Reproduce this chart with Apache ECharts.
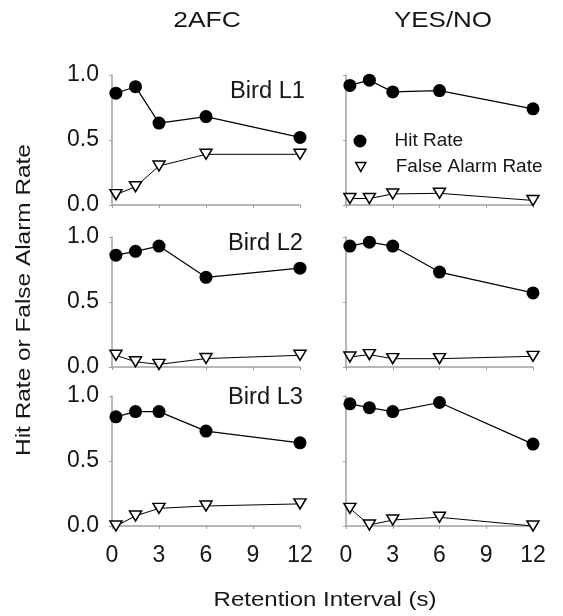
<!DOCTYPE html>
<html>
<head>
<meta charset="utf-8">
<script src="https://cdn.jsdelivr.net/npm/echarts@6/dist/echarts.min.js"></script>
<style>
  html, body { margin: 0; padding: 0; background: #fff; }
  #chart { width: 563px; height: 616px; }
</style>
</head>
<body>
<div id="chart"></div>
<script>
// ---- data ----
const retention = [0.25, 1.5, 3, 6, 12];
const conditions = ['2AFC', 'YES/NO'];
const birds = ['Bird L1', 'Bird L2', 'Bird L3'];
const xTicks = [0, 3, 6, 9, 12];
const yTicks = [0.0, 0.5, 1.0];

const hitL1_2afc = [0.86, 0.91, 0.63, 0.68, 0.52];
const faL1_2afc  = [0.08, 0.14, 0.30, 0.39, 0.39];
const hitL1_yn   = [0.92, 0.96, 0.87, 0.88, 0.74];
const faL1_yn    = [0.05, 0.05, 0.085, 0.09, 0.035];

const hitL2_2afc = [0.86, 0.89, 0.93, 0.69, 0.76];
const faL2_2afc  = [0.09, 0.04, 0.02, 0.065, 0.09];
const hitL2_yn   = [0.93, 0.96, 0.93, 0.73, 0.57];
const faL2_yn    = [0.077, 0.095, 0.064, 0.064, 0.082];

const hitL3_2afc = [0.84, 0.88, 0.88, 0.73, 0.64];
const faL3_2afc  = [0.0, 0.077, 0.136, 0.154, 0.17];
const hitL3_yn   = [0.94, 0.91, 0.88, 0.95, 0.63];
const faL3_yn    = [0.136, 0.008, 0.046, 0.067, 0.0];

const panels = [
  [[hitL1_2afc, faL1_2afc], [hitL1_yn, faL1_yn]],
  [[hitL2_2afc, faL2_2afc], [hitL2_yn, faL2_yn]],
  [[hitL3_2afc, faL3_2afc], [hitL3_yn, faL3_yn]]
];

// ---- layout ----
const FONT = 'Liberation Sans';
const TXT = '#161616';
const AXC = '#a0a0a0';
const colLeft = [112, 346];
const colWidth = [188, 187];
const rowTop = [75, 237, 396];
const rowHeight = 130;

const grid = [], xAxis = [], yAxis = [], series = [];
for (let r = 0; r < 3; r++) {
  for (let c = 0; c < 2; c++) {
    const gi = grid.length;
    grid.push({ left: colLeft[c], top: rowTop[r], width: colWidth[c], height: rowHeight });
    xAxis.push({
      type: 'value', gridIndex: gi, min: xTicks[0], max: xTicks[xTicks.length - 1], interval: 3,
      axisLine: { show: true, onZero: false, lineStyle: { color: AXC, width: 1.5 } },
      axisTick: { show: true, length: 3, lineStyle: { color: AXC, width: 1 } },
      splitLine: { show: false },
      axisLabel: { show: r === 2, margin: 18, color: TXT, fontFamily: FONT, fontSize: 23 }
    });
    yAxis.push({
      type: 'value', gridIndex: gi, min: yTicks[0], max: yTicks[yTicks.length - 1], interval: 0.5,
      axisLine: { show: true, onZero: false, lineStyle: { color: AXC, width: 1.5 } },
      axisTick: { show: true, length: 3, lineStyle: { color: AXC, width: 1 } },
      splitLine: { show: false },
      axisLabel: { show: c === 0, margin: 13, color: TXT, fontFamily: FONT, fontSize: 23,
                   formatter: v => v.toFixed(1) }
    });
    const [hit, fa] = panels[r][c];
    series.push({
      name: 'Hit Rate', type: 'line', xAxisIndex: gi, yAxisIndex: gi,
      data: retention.map((x, i) => [x, hit[i]]),
      symbol: 'circle', symbolSize: 13, z: 3,
      itemStyle: { color: '#000', borderColor: '#000', borderWidth: 0 },
      lineStyle: { color: '#000', width: 1.2 }
    });
    series.push({
      name: 'False Alarm Rate', type: 'line', xAxisIndex: gi, yAxisIndex: gi,
      data: retention.map((x, i) => [x, fa[i]]),
      symbol: 'triangle', symbolRotate: 180, symbolSize: [12, 10], z: 2,
      itemStyle: { color: '#fff', borderColor: '#000', borderWidth: 1.5 },
      lineStyle: { color: '#000', width: 1 }
    });
  }
}

const graphic = [
  { type: 'text', x: 207, y: 21, scaleX: 1.2,
    style: { text: conditions[0], fontFamily: FONT, fontSize: 22, fill: TXT, align: 'center', verticalAlign: 'middle' } },
  { type: 'text', x: 443, y: 21, scaleX: 1.18,
    style: { text: conditions[1], fontFamily: FONT, fontSize: 22, fill: TXT, align: 'center', verticalAlign: 'middle' } },
  { type: 'text', x: 305, y: 92, scaleX: 1.03,
    style: { text: birds[0], fontFamily: FONT, fontSize: 23, fill: TXT, align: 'right', verticalAlign: 'middle' } },
  { type: 'text', x: 303, y: 244, scaleX: 1.03,
    style: { text: birds[1], fontFamily: FONT, fontSize: 23, fill: TXT, align: 'right', verticalAlign: 'middle' } },
  { type: 'text', x: 303, y: 398, scaleX: 1.03,
    style: { text: birds[2], fontFamily: FONT, fontSize: 23, fill: TXT, align: 'right', verticalAlign: 'middle' } },
  { type: 'text', x: 24, y: 300, rotation: Math.PI / 2, scaleX: 1.22,
    style: { text: 'Hit Rate or False Alarm Rate', fontFamily: FONT, fontSize: 20, fill: TXT, align: 'center', verticalAlign: 'middle' } },
  { type: 'text', x: 325, y: 600, scaleX: 1.2,
    style: { text: 'Retention Interval (s)', fontFamily: FONT, fontSize: 20, fill: TXT, align: 'center', verticalAlign: 'middle' } }
];

const legend = [
  { data: [{ name: 'Hit Rate', icon: 'circle' }], left: 353.5, top: 131.5, orient: 'vertical',
    itemWidth: 13, itemHeight: 13, padding: 0,
    itemStyle: { color: '#000', borderWidth: 0 },
    textStyle: { fontFamily: FONT, fontSize: 19, color: TXT, padding: [0, 0, 0, 23] } },
  { data: [{ name: 'False Alarm Rate', icon: 'path://M0,0 L10,0 L5,9 Z' }], left: 355, top: 157.5, orient: 'vertical',
    itemWidth: 10, itemHeight: 9, padding: 0,
    itemStyle: { color: '#fff', borderColor: '#000', borderWidth: 1.5 },
    textStyle: { fontFamily: FONT, fontSize: 19, color: TXT, padding: [0, 0, 0, 25] } }
];

const chart = echarts.init(document.getElementById('chart'), null, { renderer: 'canvas' });
chart.setOption({
  animation: false,
  backgroundColor: '#fff',
  textStyle: { fontFamily: FONT },
  grid, xAxis, yAxis, series, graphic, legend
});
</script>
</body>
</html>
